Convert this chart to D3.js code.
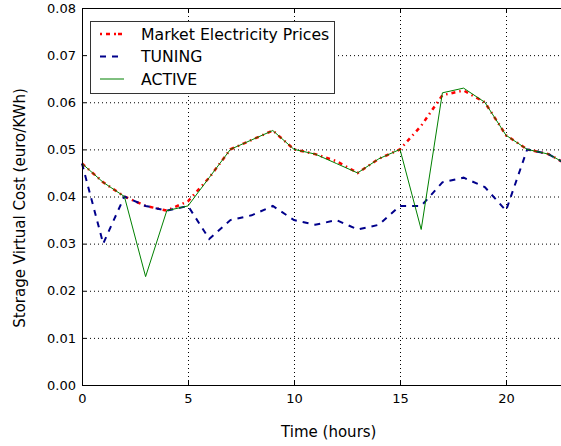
<!DOCTYPE html>
<html>
<head>
<meta charset="utf-8">
<script src="https://cdn.jsdelivr.net/npm/d3@7"></script>
<style>
  body { margin: 0; background: #fff; }
  svg { display: block; font-family: "DejaVu Sans", sans-serif; }
</style>
</head>
<body>
<div id="chart"></div>
<script>
// chart data, one value per hour
const hours = d3.range(0, 24);
const marketPrices = [0.047, 0.043, 0.040, 0.038, 0.037, 0.039, 0.044, 0.050, 0.052, 0.054, 0.050, 0.049,
  0.0475, 0.045, 0.048, 0.050, 0.055, 0.0615, 0.0625, 0.060, 0.053, 0.050, 0.049, 0.0465];
const tuning = [0.047, 0.030, 0.040, 0.038, 0.037, 0.038, 0.031, 0.035, 0.036, 0.038, 0.035, 0.034,
  0.035, 0.033, 0.034, 0.038, 0.038, 0.043, 0.044, 0.042, 0.037, 0.050, 0.049, 0.0465];
const active = [0.047, 0.043, 0.040, 0.023, 0.037, 0.038, 0.044, 0.050, 0.052, 0.054, 0.050, 0.049,
  0.047, 0.045, 0.048, 0.050, 0.033, 0.062, 0.063, 0.060, 0.053, 0.050, 0.049, 0.0465];
const xTicks = [0, 5, 10, 15, 20];
const yTicks = [0, 0.01, 0.02, 0.03, 0.04, 0.05, 0.06, 0.07, 0.08];
const seriesNames = ["Market Electricity Prices", "TUNING", "ACTIVE"];

const width = 561;
const height = 446;
const margin = { top: 8, left: 82, bottom: 61 };
const pxPerHour = 21.2;

const svg = d3.select("#chart")
  .append("svg")
  .attr("width", width)
  .attr("height", height);

const x = d3.scaleLinear()
  .domain([0, 23])
  .range([margin.left, margin.left + 23 * pxPerHour]);

const y = d3.scaleLinear()
  .domain([0, 0.08])
  .range([height - margin.bottom, margin.top]);

const plotRight = x(23);
const plotBottom = y(0);

// dotted grid
svg.append("g")
  .selectAll("line")
  .data(xTicks)
  .join("line")
  .attr("x1", d => x(d) + 0.5).attr("x2", d => x(d) + 0.5)
  .attr("y1", y(0.08)).attr("y2", plotBottom)
  .attr("stroke", "#000").attr("stroke-width", 1).attr("stroke-dasharray", "1,3");

svg.append("g")
  .selectAll("line")
  .data(yTicks)
  .join("line")
  .attr("x1", margin.left).attr("x2", plotRight)
  .attr("y1", d => y(d) + 0.5).attr("y2", d => y(d) + 0.5)
  .attr("stroke", "#000").attr("stroke-width", 1).attr("stroke-dasharray", "1,3");

// lines
const line = d3.line()
  .x((d, i) => x(hours[i]))
  .y(d => y(d));

svg.append("path")
  .datum(marketPrices)
  .attr("d", line)
  .attr("fill", "none")
  .attr("stroke", "red")
  .attr("stroke-width", 2.5)
  .attr("stroke-dasharray", "4,4,1.5,4");

svg.append("path")
  .datum(tuning)
  .attr("d", line)
  .attr("fill", "none")
  .attr("stroke", "#00008b")
  .attr("stroke-width", 2)
  .attr("stroke-dasharray", "6,6");

svg.append("path")
  .datum(active)
  .attr("d", line)
  .attr("fill", "none")
  .attr("stroke", "green")
  .attr("stroke-width", 1);

// axes (matplotlib classic: ticks inside)
const xAxis = svg.append("g")
  .attr("transform", `translate(0, ${plotBottom})`)
  .call(d3.axisBottom(x).tickValues(xTicks).tickSizeInner(-4).tickSizeOuter(0).tickPadding(9));

const xAxisTop = svg.append("g")
  .attr("transform", `translate(0, ${y(0.08)})`)
  .call(d3.axisTop(x).tickValues(xTicks).tickSizeInner(-4).tickSizeOuter(0).tickFormat(""));

const yAxis = svg.append("g")
  .attr("transform", `translate(${margin.left}, 0)`)
  .call(d3.axisLeft(y).tickValues(yTicks).tickSizeInner(-4).tickSizeOuter(0).tickPadding(6)
    .tickFormat(d3.format(".2f")));

[xAxis, xAxisTop, yAxis].forEach(g => {
  g.selectAll("text").attr("font-size", 13).attr("font-family", "DejaVu Sans").attr("fill", "#000");
  g.select(".domain").attr("stroke", "#000").attr("stroke-width", 1);
  g.selectAll(".tick line").attr("stroke", "#000");
});

// axis titles
svg.append("text")
  .attr("x", (margin.left + plotRight) / 2 + 3)
  .attr("y", 437)
  .attr("text-anchor", "middle")
  .attr("font-size", 15)
  .text("Time (hours)");

svg.append("text")
  .attr("transform", `translate(25, ${208}) rotate(-90)`)
  .attr("text-anchor", "middle")
  .attr("font-size", 15)
  .text("Storage Virtual Cost (euro/KWh)");

// legend
const legend = svg.append("g");
legend.append("rect")
  .attr("x", 90.5).attr("y", 21.5)
  .attr("width", 244).attr("height", 72)
  .attr("fill", "#fff").attr("stroke", "#333").attr("stroke-width", 1);

const legendStyles = [
  { color: "red", w: 2.5, dash: "2,4,4,4,2" },
  { color: "#00008b", w: 2, dash: "6,6" },
  { color: "green", w: 1, dash: null }
];

seriesNames.forEach((name, i) => {
  const ly = 34 + i * 22.5;
  legend.append("line")
    .attr("x1", 100).attr("x2", 124)
    .attr("y1", ly).attr("y2", ly)
    .attr("stroke", legendStyles[i].color)
    .attr("stroke-width", legendStyles[i].w)
    .attr("stroke-dasharray", legendStyles[i].dash);
  legend.append("text")
    .attr("x", 141).attr("y", ly + 5.5)
    .attr("font-size", 15.7)
    .text(name);
});
</script>
</body>
</html>
